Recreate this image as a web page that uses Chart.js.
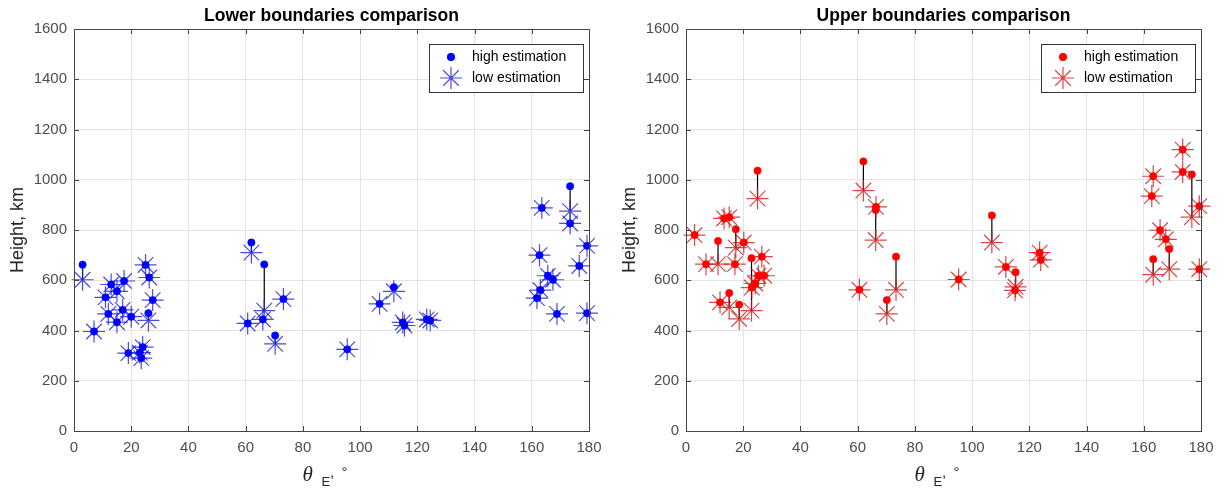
<!DOCTYPE html>
<html>
<head>
<meta charset="utf-8">
<title>Boundaries comparison</title>
<script src="https://cdn.jsdelivr.net/npm/chart.js@4.4.0/dist/chart.umd.min.js"></script>
<style>
  html, body { margin: 0; padding: 0; background: #fff; }
  .wrap { display: flex; width: 1224px; height: 489px; }
  canvas { display: block; }
</style>
</head>
<body>
<div class="wrap">
  <canvas id="lower-chart" width="612" height="489"></canvas>
  <canvas id="upper-chart" width="612" height="489"></canvas>
</div>
<script>
// theta_E (deg) with high / low height estimates (km)
const thetaLower = [3, 7, 11, 13, 15, 17.5, 12, 15, 17, 20, 19, 24, 23, 23.5, 25, 26.3, 27.5, 26,
  62, 66.5, 66, 60.7, 70.3, 73.2, 95.5, 106.8, 111.8, 114.9, 115.5, 123.3, 124.5,
  173.4, 173.4, 163.5, 179.3, 162.7, 176.6, 165.6, 167.4, 163, 161.8, 168.8, 179.3];
const highLower = [662, 396, 532, 583, 556, 597, 466, 433, 482, 455, 310, 334, 312, 290, 661, 611, 521, 469,
  750, 663, 444, 428, 380, 525, 325, 506, 572, 432, 420, 444, 440,
  974, 826, 888, 737, 700, 657, 618, 602, 561, 529, 466, 469];
const lowLower = [602, 396, 532, 583, 556, 597, 466, 433, 482, 455, 310, 334, 312, 290, 661, 611, 521, 440,
  710, 479, 444, 428, 347, 525, 325, 506, 556, 432, 420, 444, 440,
  875, 826, 888, 737, 700, 657, 618, 602, 561, 529, 466, 469];

const thetaUpper = [3, 7, 11.2, 13.3, 15.1, 17.4, 20.2, 17.1, 15.1, 11.9, 18.6, 22.9, 23, 24.2, 26.5, 25.3, 27.3, 25,
  62, 66.4, 66.3, 60.6, 73.4, 70.2, 95.3, 106.9, 111.8, 115.2, 115, 123.6, 124,
  173.6, 163.3, 173.6, 176.8, 179.4, 162.8, 165.7, 167.7, 168.9, 163.3, 179.4];
const highUpper = [780, 664, 756, 846, 851, 803, 750, 664, 549, 512, 503, 688, 571, 587, 694, 618, 618, 1036,
  1073, 892, 880, 562, 694, 521, 603, 858, 653, 632, 560, 710, 681,
  1120, 1014, 1031, 1021, 895, 935, 799, 763, 724, 684, 644];
const lowUpper = [780, 664, 664, 846, 851, 730, 750, 664, 492, 512, 446, 479, 571, 587, 694, 618, 618, 925,
  957, 892, 760, 562, 562, 466, 603, 750, 653, 574, 560, 710, 681,
  1120, 1014, 1031, 851, 895, 935, 799, 763, 644, 622, 644];

const xTicks = [0, 20, 40, 60, 80, 100, 120, 140, 160, 180];
const yTicks = [0, 200, 400, 600, 800, 1000, 1200, 1400, 1600];
const legendLabels = ['high estimation', 'low estimation'];

Chart.defaults.font.family = '"Liberation Sans", Arial, sans-serif';

function toPoints(theta, vals) {
  return theta.map((t, i) => ({x: t, y: vals[i]}));
}

// black connectors between high and low estimate of the same event
function stemPoints(theta, high, low) {
  const pts = [];
  theta.forEach((t, i) => {
    if (high[i] !== low[i]) {
      pts.push({x: t, y: high[i]}, {x: t, y: low[i]}, {x: t, y: null});
    }
  });
  return pts;
}

// title, axes box, inward ticks, legend and the theta_E axis label
const boxAndLabels = {
  id: 'boxAndLabels',
  afterDraw(chart, args, opts) {
    const {ctx, chartArea: a, scales: {x, y}} = chart;
    const cx = (a.left + a.right) / 2;
    ctx.save();

    // title centred over the plot area
    ctx.fillStyle = '#000';
    ctx.font = 'bold 17.5px "Liberation Sans", Arial, sans-serif';
    ctx.textAlign = 'center';
    ctx.textBaseline = 'alphabetic';
    ctx.fillText(opts.title, cx, 20.5);

    ctx.strokeStyle = '#444';
    ctx.lineWidth = 1;
    ctx.strokeRect(Math.round(a.left) + 0.5, Math.round(a.top) + 0.5,
      Math.round(a.right - a.left), Math.round(a.bottom - a.top));
    ctx.beginPath();
    xTicks.forEach(v => {
      const px = Math.round(x.getPixelForValue(v)) + 0.5;
      ctx.moveTo(px, a.bottom); ctx.lineTo(px, a.bottom - 5);
      ctx.moveTo(px, a.top); ctx.lineTo(px, a.top + 5);
    });
    yTicks.forEach(v => {
      const py = Math.round(y.getPixelForValue(v)) + 0.5;
      ctx.moveTo(a.left, py); ctx.lineTo(a.left + 5, py);
      ctx.moveTo(a.right, py); ctx.lineTo(a.right - 5, py);
    });
    ctx.stroke();

    // legend
    const lx = a.right - 160, ly = a.top + 15, lw = 154, lh = 48;
    ctx.fillStyle = '#fff';
    ctx.fillRect(lx, ly, lw, lh);
    ctx.strokeStyle = '#333';
    ctx.strokeRect(lx + 0.5, ly + 0.5, lw, lh);
    const mx = lx + 22;
    ctx.fillStyle = opts.dotColor;
    ctx.strokeStyle = opts.dotColor;
    Chart.helpers.drawPoint(ctx, {pointStyle: 'circle', radius: 3.7, borderWidth: 1, rotation: 0}, mx, ly + 13);
    ctx.strokeStyle = opts.starColor;
    ctx.lineWidth = 1.2;
    Chart.helpers.drawPoint(ctx, {pointStyle: 'star', radius: 11, borderWidth: 1.2, rotation: 0}, mx, ly + 34);
    ctx.fillStyle = '#000';
    ctx.font = '14px "Liberation Sans", Arial, sans-serif';
    ctx.textBaseline = 'middle';
    ctx.textAlign = 'left';
    ctx.fillText(legendLabels[0], lx + 43, ly + 13);
    ctx.fillText(legendLabels[1], lx + 43, ly + 34);

    // x axis label: theta with subscript E, then degree sign
    ctx.fillStyle = '#262626';
    ctx.textBaseline = 'alphabetic';
    ctx.font = 'italic 21px "Liberation Serif", "DejaVu Serif", serif';
    ctx.fillText('\u03b8', cx - 29, 481);
    ctx.font = '13px "Liberation Sans", Arial, sans-serif';
    ctx.fillText('E', cx - 10, 486);
    ctx.font = '15px "Liberation Sans", Arial, sans-serif';
    ctx.fillText(',', cx - 1.5, 477);
    ctx.fillText('\u00b0', cx + 10, 477);
    ctx.restore();
  }
};

function makeChart(canvas, title, theta, high, low, dotColor, starColor) {
  return new Chart(canvas, {
    type: 'scatter',
    data: {
      datasets: [{
        label: 'stems',
        data: stemPoints(theta, high, low),
        showLine: true,
        spanGaps: false,
        borderColor: '#000',
        borderWidth: 1.2,
        pointRadius: 0,
        clip: false,
        order: 3,
      }, {
        label: legendLabels[1],
        data: toPoints(theta, low),
        pointStyle: 'star',
        pointRadius: 11,
        borderColor: starColor,
        borderWidth: 1.2,
        clip: false,
        order: 2,
      }, {
        label: legendLabels[0],
        data: toPoints(theta, high),
        pointStyle: 'circle',
        pointRadius: 3.7,
        backgroundColor: dotColor,
        borderColor: dotColor,
        borderWidth: 0.5,
        clip: false,
        order: 1,
      }]
    },
    options: {
      responsive: false,
      devicePixelRatio: 1,
      animation: false,
      events: [],
      layout: { padding: { left: 0, right: 23, top: 29, bottom: 0 } },
      scales: {
        x: {
          type: 'linear',
          min: 0,
          max: 180,
          afterBuildTicks: s => { s.ticks = xTicks.map(v => ({value: v})); },
          afterFit: s => { s.height = 58; },
          ticks: { color: '#4d4d4d', font: { size: 15 }, padding: 8, maxRotation: 0,
            callback: v => String(v) },
          grid: { color: '#e3e3e3', drawTicks: false },
          border: { color: '#444', width: 1 },
        },
        y: {
          min: 0,
          max: 1600,
          afterBuildTicks: s => { s.ticks = yTicks.map(v => ({value: v})); },
          afterFit: s => { s.width = 74; },
          ticks: { color: '#4d4d4d', font: { size: 15 }, padding: 7,
            callback: v => String(v) },
          grid: { color: '#e3e3e3', drawTicks: false },
          border: { color: '#444', width: 1 },
          title: {
            display: true,
            text: 'Height, km',
            color: '#262626',
            font: { size: 18 },
            padding: { top: 7, bottom: 0 },
          },
        },
      },
      plugins: {
        legend: { display: false },
        tooltip: { enabled: false },
        title: { display: false },
        boxAndLabels: { title: title, dotColor: dotColor, starColor: starColor },
      },
    },
    plugins: [boxAndLabels],
  });
}

makeChart(document.querySelector('#lower-chart'), 'Lower boundaries comparison',
  thetaLower, highLower, lowLower, '#0000ff', 'rgba(30, 30, 215, 0.8)');
makeChart(document.querySelector('#upper-chart'), 'Upper boundaries comparison',
  thetaUpper, highUpper, lowUpper, '#ff0000', 'rgba(205, 25, 25, 0.8)');
</script>
</body>
</html>
